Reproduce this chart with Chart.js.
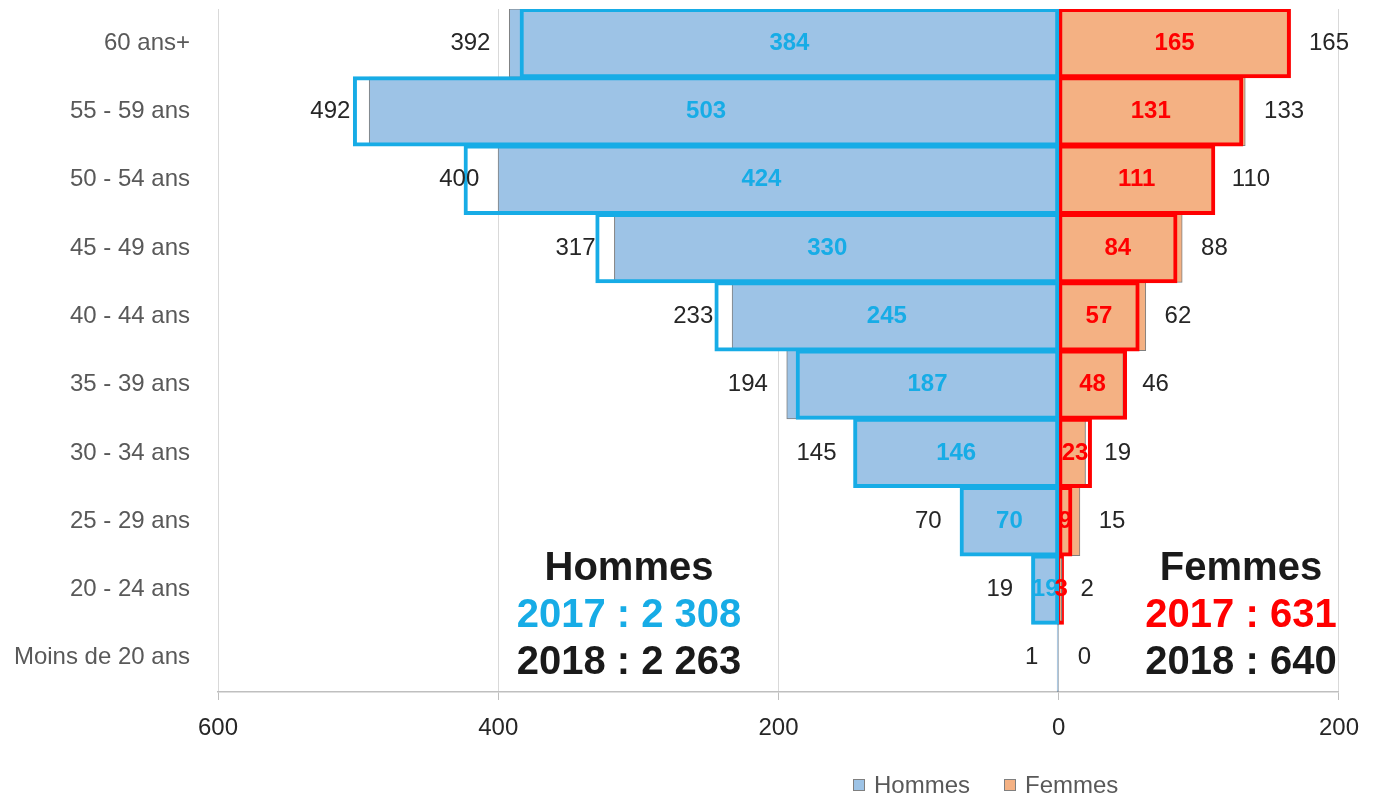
<!DOCTYPE html>
<html lang="fr">
<head>
<meta charset="utf-8">
<title>Pyramide des âges — Hommes / Femmes 2017-2018</title>
<script src="https://cdn.jsdelivr.net/npm/chart.js@4.4.1/dist/chart.umd.min.js"></script>
<style>
  html, body { margin: 0; padding: 0; background: #fff; }
  #wrap { width: 1373px; height: 798px; position: relative; }
</style>
</head>
<body>
<div id="wrap"><canvas id="pyramid"></canvas></div>
<script>
// ── Data ─────────────────────────────────────────────────────
const categories = ['60 ans+', '55 - 59 ans', '50 - 54 ans', '45 - 49 ans', '40 - 44 ans',
                    '35 - 39 ans', '30 - 34 ans', '25 - 29 ans', '20 - 24 ans', 'Moins de 20 ans'];
const hommes2017 = [384, 503, 424, 330, 245, 187, 146, 70, 19, 0];
const hommes2018 = [392, 492, 400, 317, 233, 194, 145, 70, 19, 1];
const femmes2017 = [165, 131, 111, 84, 57, 48, 23, 9, 3, 0];
const femmes2018 = [165, 133, 110, 88, 62, 46, 19, 15, 2, 0];
const xTicks     = [-600, -400, -200, 0, 200];

// ── Style ────────────────────────────────────────────────────
const FONT  = "'Liberation Sans', Arial, sans-serif";
const CYAN  = '#17ACE6';
const RED   = '#FF0000';
const BLUE  = '#9DC3E6';
const ORNG  = '#F4B183';
const GREY  = '#7F7F7F';
const INK   = '#262626';

const sum = arr => arr.reduce((a, b) => a + b, 0);
const fmt = n => String(n).replace(/\B(?=(\d{3})+(?!\d))/g, ' ');

// ── Labels + annotations plugin ──────────────────────────────
const labelPlugin = {
  id: 'pyramidLabels',
  afterDatasetsDraw(chart) {
    const ctx = chart.ctx;
    ctx.save();
    ctx.textBaseline = 'middle';
    chart.data.datasets.forEach((ds, di) => {
      const meta = chart.getDatasetMeta(di);
      meta.data.forEach((el, i) => {
        const raw = ds.raw[i];
        if (ds.year === 2017) {
          if (!raw) return;
          ctx.font = 'bold 24px ' + FONT;
          ctx.fillStyle = ds.labelColor;
          ctx.textAlign = 'center';
          ctx.fillText(raw, (el.x + el.base) / 2, el.y);
        } else {
          ctx.font = '24px ' + FONT;
          ctx.fillStyle = INK;
          const left = ds.side === 'H';
          ctx.textAlign = left ? 'right' : 'left';
          ctx.fillText(raw, el.x + (left ? -19 : 19), el.y);
        }
      });
    });
    ctx.restore();
  },
  afterDraw(chart) {
    const ctx = chart.ctx;
    ctx.save();
    // totals
    ctx.textAlign = 'center';
    ctx.textBaseline = 'middle';
    ctx.font = 'bold 40px ' + FONT;
    const blocks = [
      { x: 629,  title: 'Hommes', c17: CYAN, t17: sum(hommes2017), t18: sum(hommes2018) },
      { x: 1241, title: 'Femmes', c17: RED,  t17: sum(femmes2017), t18: sum(femmes2018) }
    ];
    blocks.forEach(b => {
      ctx.fillStyle = '#1a1a1a';
      ctx.fillText(b.title, b.x, 569);
      ctx.fillStyle = b.c17;
      ctx.fillText('2017 : ' + fmt(b.t17), b.x, 616);
      ctx.fillStyle = '#1a1a1a';
      ctx.fillText('2018 : ' + fmt(b.t18), b.x, 663);
    });
    // legend
    ctx.font = '24px ' + FONT;
    ctx.textAlign = 'left';
    [{ x: 853, fill: BLUE, text: 'Hommes' }, { x: 1004, fill: ORNG, text: 'Femmes' }].forEach(l => {
      ctx.fillStyle = l.fill;
      ctx.fillRect(l.x, 779, 12, 12);
      ctx.strokeStyle = GREY;
      ctx.lineWidth = 1;
      ctx.strokeRect(l.x + 0.5, 779.5, 11, 11);
      ctx.fillStyle = '#595959';
      ctx.fillText(l.text, l.x + 21, 786);
    });
    ctx.restore();
  }
};

// ── Datasets ─────────────────────────────────────────────────
// border band = borderWidth + 2 * inflateAmount, roughly centred on the bar edge
const outline = { backgroundColor: 'rgba(0,0,0,0)', borderWidth: 2, inflateAmount: 1,
                  borderSkipped: false, categoryPercentage: 1, barPercentage: 1, grouped: false };
const filled  = { borderColor: GREY, borderWidth: 1, inflateAmount: 0.5,
                  borderSkipped: false, categoryPercentage: 1, barPercentage: 1, grouped: false };

const datasets = [
  { ...outline, label: 'Hommes 2017', data: hommes2017.map(v => -v), raw: hommes2017,
    borderColor: CYAN, labelColor: CYAN, year: 2017, side: 'H', order: 0 },
  { ...outline, label: 'Femmes 2017', data: femmes2017, raw: femmes2017,
    borderColor: RED, labelColor: RED, year: 2017, side: 'F', order: 1 },
  { ...filled, label: 'Hommes', data: hommes2018.map(v => -v), raw: hommes2018,
    backgroundColor: BLUE, year: 2018, side: 'H', order: 2 },
  { ...filled, label: 'Femmes', data: femmes2018, raw: femmes2018,
    backgroundColor: ORNG, year: 2018, side: 'F', order: 3 }
];

// ── Chart ────────────────────────────────────────────────────
new Chart(document.getElementById('pyramid'), {
  type: 'bar',
  data: { labels: categories, datasets },
  plugins: [labelPlugin],
  options: {
    indexAxis: 'y',
    responsive: true,
    maintainAspectRatio: false,
    animation: false,
    layout: { padding: { top: 9, right: 31, bottom: 46, left: 0 } },
    plugins: { legend: { display: false }, tooltip: { enabled: false } },
    scales: {
      x: {
        min: xTicks[0], max: xTicks[xTicks.length - 1],
        afterBuildTicks: s => { s.ticks = xTicks.map(v => ({ value: v })); },
        afterFit: s => { s.height = 60; },
        grid: { color: '#d9d9d9', lineWidth: 1, tickLength: 8, tickColor: '#bfbfbf' },
        border: { color: '#bfbfbf', width: 1.5 },
        ticks: { callback: v => Math.abs(v), color: INK, padding: 14,
                 font: { family: FONT, size: 24 }, maxRotation: 0 }
      },
      y: {
        afterFit: s => { s.width = 218; s.paddingTop = 0; s.paddingBottom = 0; },
        grid: { display: false },
        border: { display: false },
        ticks: { color: '#595959', padding: 20, font: { family: FONT, size: 24 } }
      }
    }
  }
});
</script>
</body>
</html>
